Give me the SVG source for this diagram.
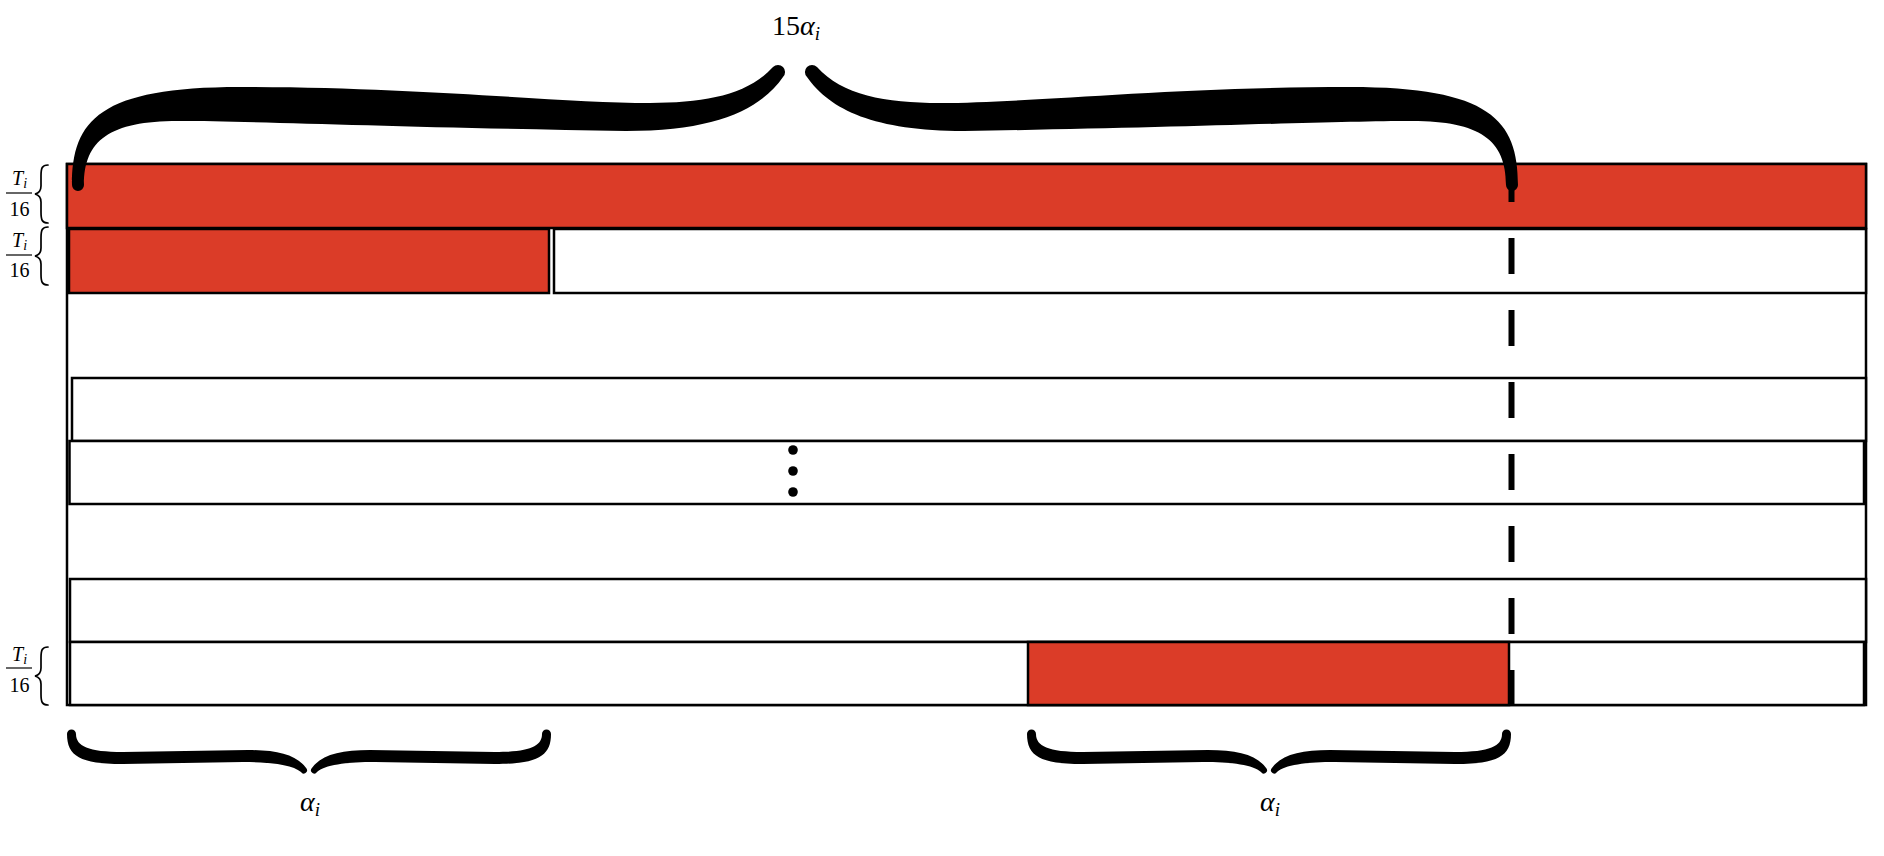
<svg xmlns="http://www.w3.org/2000/svg" xmlns:xlink="http://www.w3.org/1999/xlink" width="1884" height="856" viewBox="0 0 1884 856">
<style>
.row{fill:#ffffff;stroke:#000;stroke-width:2.5}
.red{fill:#db3c28;stroke:#000;stroke-width:2.5}
.frame{fill:none;stroke:#000;stroke-width:2.5}
.lbl{font-family:"Liberation Serif","Times New Roman",serif;fill:#000}
.it{font-style:italic}
.sb{fill:none;stroke:#000;stroke-width:1.7;stroke-linecap:round}
.fl{stroke:#000;stroke-width:1.2}
</style>
<defs>
<path id="hb" d="M -240 -36 C -240 -14 -227 -6 -184 -6 L -64 -8 C -34 -8 -14 -5 -6 2 A 3.2 3.2 0 0 0 -0.5 -1.5 C -10 -15 -29 -20 -59 -20 L -184 -18 C -219 -18 -231 -24 -231 -36 A 4.5 4.5 0 0 0 -240 -36 Z" fill="#000"/>
<path id="tb" d="M 72 185 C 72 120 100 87 240 87 C 420 87 560 103 650 103 C 705 103 748 95 773 67 A 6.5 6.5 0 0 1 783 77 C 760 110 715 131 626 131 C 420 128 260 121 178 121 C 110 121 84 140 84 185 A 6 6 0 0 1 72 185 Z" fill="#000"/>
<path id="sbr" class="sb" d="M 48 -29 C 42 -29 41 -26 41 -18 L 41 -8 C 41 -3 39 -1 35 0 C 39 1 41 3 41 8 L 41 18 C 41 26 42 29 48 29"/>
</defs>
<rect width="1884" height="856" fill="#fff"/>
<g id="frame"><rect class="frame" x="67" y="164" width="1799" height="541"/></g>
<g id="row1"><rect class="red" x="67" y="164" width="1799" height="64"/></g>
<g id="row2">
<rect class="red" x="69" y="229" width="480" height="64"/>
<rect class="row" x="554" y="229" width="1312" height="64"/>
</g>
<g id="row3"><rect class="row" x="72" y="378" width="1794" height="63"/></g>
<g id="row4"><rect class="row" x="69.5" y="441" width="1794.5" height="63"/></g>
<g id="dots">
<circle cx="793" cy="450" r="4.8"/>
<circle cx="793" cy="471" r="4.8"/>
<circle cx="793" cy="492" r="4.8"/>
</g>
<g id="row5"><rect class="row" x="70" y="579" width="1796" height="63"/></g>
<g id="row6">
<rect class="row" x="70" y="642" width="1794" height="63"/>
<rect class="red" x="1028" y="642" width="481" height="63"/>
</g>
<g id="connectors">
<line x1="1511.5" y1="166" x2="1511.5" y2="706" stroke="#000" stroke-width="6" stroke-dasharray="36 36"/>
</g>
<g id="top-brace">
<use xlink:href="#tb"/>
<use xlink:href="#tb" transform="translate(1590,0) scale(-1,1)"/>
<text class="lbl" x="772" y="35" font-size="28">15<tspan class="it">α</tspan><tspan class="it" font-size="19" dy="5">i</tspan></text>
</g>
<g id="bottom-brace-1">
<use xlink:href="#hb" transform="translate(307,770)"/>
<use xlink:href="#hb" transform="translate(311,770) scale(-1,1)"/>
<text class="lbl it" x="300" y="811" font-size="28">α<tspan font-size="19" dy="5">i</tspan></text>
</g>
<g id="bottom-brace-2">
<use xlink:href="#hb" transform="translate(1267,770)"/>
<use xlink:href="#hb" transform="translate(1271,770) scale(-1,1)"/>
<text class="lbl it" x="1260" y="811" font-size="28">α<tspan font-size="19" dy="5">i</tspan></text>
</g>
<g id="height-1">
<use xlink:href="#sbr" transform="translate(0,194)"/>
<text class="lbl it" x="12" y="185" font-size="20">T<tspan font-size="14" dy="3">i</tspan></text>
<line class="fl" x1="6" y1="193" x2="32" y2="193"/>
<text class="lbl" x="19.5" y="216" font-size="20" text-anchor="middle">16</text>
</g>
<g id="height-2">
<use xlink:href="#sbr" transform="translate(0,256)"/>
<text class="lbl it" x="12" y="247" font-size="20">T<tspan font-size="14" dy="3">i</tspan></text>
<line class="fl" x1="6" y1="255" x2="32" y2="255"/>
<text class="lbl" x="19.5" y="277" font-size="20" text-anchor="middle">16</text>
</g>
<g id="height-3">
<use xlink:href="#sbr" transform="translate(0,676)"/>
<text class="lbl it" x="12" y="661" font-size="20">T<tspan font-size="14" dy="3">i</tspan></text>
<line class="fl" x1="6" y1="668" x2="32" y2="668"/>
<text class="lbl" x="19.5" y="692" font-size="20" text-anchor="middle">16</text>
</g>
</svg>
